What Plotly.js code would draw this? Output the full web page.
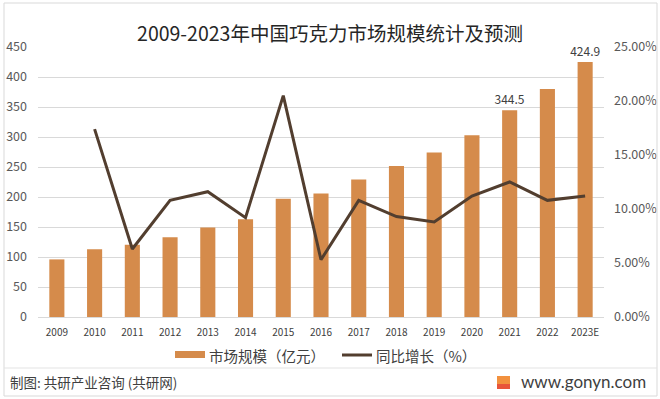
<!DOCTYPE html>
<html>
<head>
<meta charset="utf-8">
<script src="https://cdn.plot.ly/plotly-3.0.1.min.js"></script>
<style>html,body{margin:0;padding:0;background:#fff;}#chart{width:660px;height:399px;}</style>
</head>
<body>
<div id="chart"></div>
<script>
const years = ['2009','2010','2011','2012','2013','2014','2015','2016','2017','2018','2019','2020','2021','2022','2023E'];
const marketSize = [96, 113, 120.5, 133, 149, 163, 197, 206, 229, 251.5, 274, 303, 344.5, 380, 424.9];
const growthYears = ['2010','2011','2012','2013','2014','2015','2016','2017','2018','2019','2020','2021','2022','2023E'];
const growthRate = [17.4, 6.3, 10.8, 11.6, 9.2, 20.5, 5.3, 10.8, 9.3, 8.8, 11.2, 12.5, 10.8, 11.2];
const labelledYears = ['2021','2023E'];
const barLabels = marketSize.map((v,i)=> labelledYears.includes(years[i]) ? String(v) : '');
const seriesNames = ['市场规模（亿元）','同比增长（%）'];
const titleText = '2009-2023年中国巧克力市场规模统计及预测';
const sourceText = '制图: 共研产业咨询 (共研网)';
const siteText = 'www.gonyn.com';

const font = '"Noto Sans CJK SC", "Microsoft YaHei", sans-serif';
const barColor = '#D58B4B';
const lineColor = '#523E2F';

const traces = [
  {type:'bar', x: years, y: marketSize, name: seriesNames[0],
   marker:{color:barColor}, text: barLabels, textposition:'outside', constraintext:'none', textangle:0,
   textfont:{size:12, color:'#404040', family:font}, cliponaxis:false, hoverinfo:'none'},
  {type:'scatter', mode:'lines', x: growthYears, y: growthRate, name: seriesNames[1],
   yaxis:'y2', line:{color:lineColor, width:3}, hoverinfo:'none'}
];

// pixel -> paper helpers (plot area: x 38..604, y 47..317)
const px = p => (p - 38) / 566;
const py = p => (317 - p) / 270;

const layout = {
  width:660, height:399,
  margin:{l:38, r:56, t:47, b:82},
  paper_bgcolor:'#fff', plot_bgcolor:'#fff',
  font:{family:font, color:'#595959'},
  title:{text:titleText, font:{size:19.5, color:'#262626', family:font}, x:0.5, xanchor:'center', y:0.915, yanchor:'middle'},
  bargap:0.6,
  showlegend:false,
  xaxis:{type:'category', tickfont:{size:10, color:'#404040'}, showline:true, linecolor:'#d9d9d9', ticks:'', showgrid:false, ticklabelstandoff:6},
  yaxis:{range:[0,450], dtick:50, tickfont:{size:12.5, color:'#595959'}, gridcolor:'#d9d9d9', zeroline:false, ticks:'', ticklabelstandoff:10},
  yaxis2:{range:[0,25], dtick:5, overlaying:'y', side:'right', tickformat:'.2f', ticksuffix:'%', tickfont:{size:12.5, color:'#595959'}, showgrid:false, zeroline:false, ticklabelstandoff:9},
  shapes:[
    {type:'rect', xref:'paper', yref:'paper', x0:px(4), x1:px(657), y0:py(396), y1:py(3), line:{color:'#d9d9d9', width:1}},
    {type:'line', xref:'paper', yref:'paper', x0:px(4), x1:px(657), y0:py(368), y1:py(368), line:{color:'#e3e3e3', width:1}},
    // legend swatches
    {type:'rect', xref:'paper', yref:'paper', x0:px(175), x1:px(205), y0:py(358), y1:py(351), line:{width:0}, fillcolor:barColor},
    {type:'line', xref:'paper', yref:'paper', x0:px(342), x1:px(372), y0:py(355), y1:py(355), line:{color:lineColor, width:3}},
    // logo
    {type:'rect', xref:'paper', yref:'paper', x0:px(497), x1:px(510), y0:py(389), y1:py(376), line:{width:0}, fillcolor:'#F2913E'},
    {type:'rect', xref:'paper', yref:'paper', x0:px(497), x1:px(510), y0:py(389), y1:py(384), line:{width:0}, fillcolor:'#E8553A'}
  ],
  annotations:[
    {xref:'paper', yref:'paper', x:px(207), y:py(355), xanchor:'left', yanchor:'middle', text:seriesNames[0], showarrow:false, font:{size:14.5, color:'#404040', family:font}},
    {xref:'paper', yref:'paper', x:px(374), y:py(355), xanchor:'left', yanchor:'middle', text:seriesNames[1], showarrow:false, font:{size:14.5, color:'#404040', family:font}},
    {xref:'paper', yref:'paper', x:px(8), y:py(382), xanchor:'left', yanchor:'middle', text:sourceText, showarrow:false, font:{size:13.5, color:'#404040', family:font}},
    {xref:'paper', yref:'paper', x:px(648), y:py(381), xanchor:'right', yanchor:'middle', text:siteText, showarrow:false, font:{size:17, color:'#404040', family:'Lato, "Noto Sans", sans-serif'}}
  ]
};

Plotly.newPlot('chart', traces, layout, {displayModeBar:false, staticPlot:true});
</script>
</body>
</html>
